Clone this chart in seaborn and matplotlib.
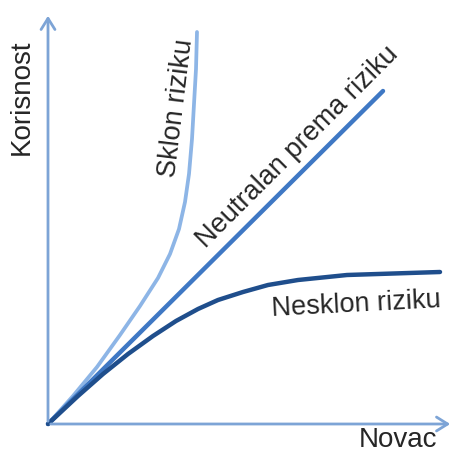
import numpy as np
import pandas as pd
import seaborn as sns
import matplotlib.pyplot as plt

# curve points (money vs utility, arbitrary units)
sklon_x = [0, 25, 49, 72, 92, 110, 122, 131, 137, 141, 144, 146, 148, 149]
sklon_y = [0, 28, 57, 89, 118, 146, 170, 195, 222, 250, 285, 320, 355, 392]

neutral_x = [0, 335]
neutral_y = [0, 333]

nesklon_x = [0, 30, 55, 80, 105, 128, 150, 170, 195, 220, 250, 299, 392]
nesklon_y = [0, 28, 50, 70, 88, 103, 115, 124, 132, 139, 144, 149, 152]

axis_col = '#7DA4D6'
c_sklon = '#8DB5E6'
c_neutral = '#3F78C4'
c_nesklon = '#1F4E8C'

sns.set_style('white')
plt.rcParams['font.family'] = ['Liberation Sans', 'DejaVu Sans']

fig = plt.figure(figsize=(4.53, 4.56), dpi=100)
ax = fig.add_axes([0, 0, 1, 1])

df_s = pd.DataFrame({'x': sklon_x, 'y': sklon_y})
df_n = pd.DataFrame({'x': neutral_x, 'y': neutral_y})
df_a = pd.DataFrame({'x': nesklon_x, 'y': nesklon_y})

sns.lineplot(data=df_s, x='x', y='y', sort=False, color=c_sklon, lw=2.7, ax=ax,
             solid_joinstyle='round')
sns.lineplot(data=df_n, x='x', y='y', sort=False, color=c_neutral, lw=3.2, ax=ax)
sns.lineplot(data=df_a, x='x', y='y', sort=False, color=c_nesklon, lw=3.2, ax=ax,
             solid_joinstyle='round')

# axes with open arrowheads
ax.annotate('', xy=(405, 0), xytext=(0, 0),
            arrowprops=dict(arrowstyle='->,head_length=0.8,head_width=0.5', color=axis_col, lw=2))
ax.annotate('', xy=(0, 411), xytext=(0, 0),
            arrowprops=dict(arrowstyle='->,head_length=0.8,head_width=0.5', color=axis_col, lw=2))

ax.text(-26, 328, 'Korisnost', rotation=90, fontsize=20, ha='center', va='center')
ax.text(350, -15, 'Novac', fontsize=20, ha='center', va='center')
ax.text(129, 317, 'Sklon riziku', rotation=83, fontsize=19.5, ha='center', va='center')
ax.text(250, 278, 'Neutralan prema riziku', rotation=45, fontsize=19.5, ha='center', va='center')
ax.text(308, 120, 'Nesklon riziku', rotation=3, fontsize=19.5, ha='center', va='center')

ax.set_xlim(-48, 405)
ax.set_ylim(-31, 425)
ax.set_axis_off()

plt.savefig('out.png', dpi=100)
